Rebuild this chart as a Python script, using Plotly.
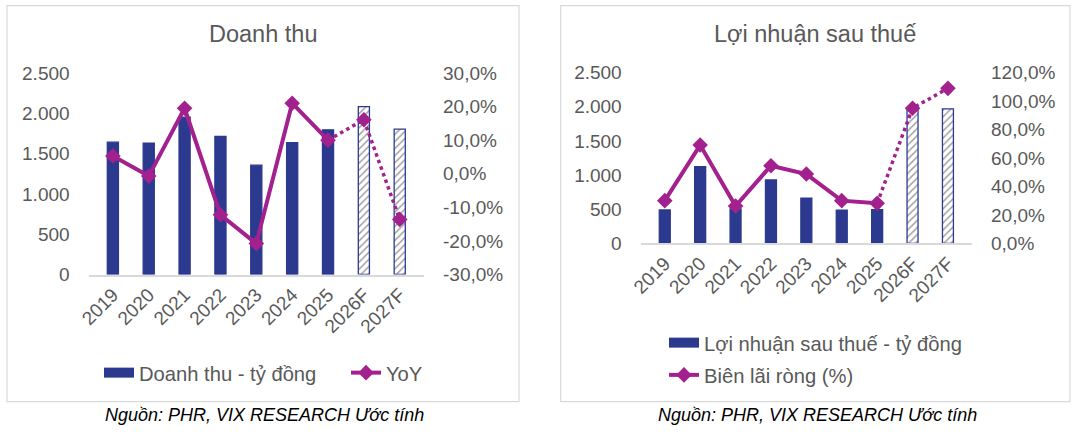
import plotly.graph_objects as go

# ---------------- data ----------------
years = ["2019", "2020", "2021", "2022", "2023", "2024", "2025", "2026F", "2027F"]
is_forecast = [False, False, False, False, False, False, False, True, True]

revenue = [1642, 1630, 1952, 1712, 1357, 1637, 1795, 2083, 1803]          # tỷ đồng
revenue_yoy = [5.3, -0.7, 19.5, -12.2, -20.8, 21.0, 10.0, 16.1, -13.6]      # %

profit = [488, 1123, 505, 928, 660, 484, 493, 1979, 1969]                   # tỷ đồng
net_margin = [30.0, 69.1, 26.2, 54.6, 48.7, 30.0, 28.1, 95.0, 109.0]         # %

rev_ticks = [0, 500, 1000, 1500, 2000, 2500]
rev_ticktext = ["0", "500", "1.000", "1.500", "2.000", "2.500"]
yoy_ticks = [-30, -20, -10, 0, 10, 20, 30]
yoy_ticktext = ["-30,0%", "-20,0%", "-10,0%", "0,0%", "10,0%", "20,0%", "30,0%"]
margin_ticks = [0, 20, 40, 60, 80, 100, 120]
margin_ticktext = ["0,0%", "20,0%", "40,0%", "60,0%", "80,0%", "100,0%", "120,0%"]

title_left = "Doanh thu"
title_right = "Lợi nhuận sau thuế"
bar_name_left = "Doanh thu - tỷ đồng"
line_name_left = "YoY"
bar_name_right = "Lợi nhuận sau thuế - tỷ đồng"
line_name_right = "Biên lãi ròng (%)"
source_text = "Nguồn: PHR, VIX RESEARCH Ước tính"

# ---------------- style ----------------
W, H = 1082, 434
NAVY = "#2B3A8F"
MAG = "#A3218E"
GREY = "#595959"
FONT = "Liberation Sans, Arial, sans-serif"
n_actual = sum(1 for f in is_forecast if not f)

def px_x(v):
    return v / W

def px_y(v):
    return 1 - v / H

bar_colors = ["white" if f else NAVY for f in is_forecast]
bar_pattern = ["/" if f else "" for f in is_forecast]

fig = go.Figure()

def add_panel(xa, ya, ya2, bars, line, bar_name, line_name, legend_id):
    fig.add_trace(go.Bar(
        x=years, y=bars, xaxis=xa, yaxis=ya, width=0.31, showlegend=False,
        marker=dict(color=bar_colors, line=dict(color=NAVY, width=1.3),
                    pattern=dict(shape=bar_pattern, fgcolor=NAVY, size=5, solidity=0.3)),
    ))
    # legend proxy for the bars
    fig.add_trace(go.Scatter(
        x=[None], y=[None], xaxis=xa, yaxis=ya, mode="lines", name=bar_name,
        line=dict(color=NAVY, width=11), legend=legend_id, legendgroup=legend_id + "a",
    ))
    fig.add_trace(go.Scatter(
        x=years[:n_actual], y=line[:n_actual], xaxis=xa, yaxis=ya2, mode="lines+markers",
        name=line_name, line=dict(color=MAG, width=4),
        marker=dict(symbol="diamond", size=12, color=MAG),
        legend=legend_id, legendgroup=legend_id + "b",
    ))
    fig.add_trace(go.Scatter(
        x=years[n_actual - 1:], y=line[n_actual - 1:], xaxis=xa, yaxis=ya2, mode="lines+markers",
        showlegend=False, line=dict(color=MAG, width=3.5, dash="dot"),
        marker=dict(symbol="diamond", size=12, color=MAG, opacity=[0] + [1] * (len(years) - n_actual)),
    ))

add_panel("x", "y", "y2", revenue, revenue_yoy, bar_name_left, line_name_left, "legend")
add_panel("x2", "y3", "y4", profit, net_margin, bar_name_right, line_name_right, "legend2")

tickfont = dict(family=FONT, size=19, color=GREY)
xcommon = dict(type="category", showline=True, linecolor="#D9D9D9", linewidth=1.5,
               showgrid=False, ticks="", tickangle=-45, tickfont=tickfont, fixedrange=True,
               automargin=False)
ycommon = dict(showgrid=False, zeroline=False, showline=False, ticks="",
               tickfont=tickfont, ticklabelstandoff=18, automargin=False)

fig.update_layout(
    width=W, height=H, margin=dict(l=0, r=0, t=0, b=0),
    paper_bgcolor="white", plot_bgcolor="white",
    barmode="overlay", font=dict(family=FONT, color=GREY),
    xaxis=dict(domain=[px_x(88.6), px_x(424)], anchor="y", **xcommon),
    yaxis=dict(domain=[px_y(274.5), px_y(73)], anchor="x", range=[0, 2500],
               tickvals=rev_ticks, ticktext=rev_ticktext, **ycommon),
    yaxis2=dict(overlaying="y", side="right", anchor="x", range=[-30, 30],
                tickvals=yoy_ticks, ticktext=yoy_ticktext, **ycommon),
    xaxis2=dict(domain=[px_x(640.7), px_x(972)], anchor="y3", **xcommon),
    yaxis3=dict(domain=[px_y(243.3), px_y(72.7)], anchor="x2", range=[0, 2500],
                tickvals=rev_ticks, ticktext=rev_ticktext, **ycommon),
    yaxis4=dict(overlaying="y3", side="right", anchor="x2", range=[0, 120],
                tickvals=margin_ticks, ticktext=margin_ticktext, **ycommon),
    legend=dict(orientation="h", x=px_x(99), xanchor="left", y=px_y(373), yanchor="middle",
                entrywidth=202, entrywidthmode="pixels",
                font=dict(family=FONT, size=20.2, color=GREY), bgcolor="rgba(0,0,0,0)"),
    legend2=dict(orientation="v", x=px_x(664), xanchor="left", y=px_y(359), yanchor="middle",
                 font=dict(family=FONT, size=20.2, color=GREY), bgcolor="rgba(0,0,0,0)",
                 traceorder="grouped", tracegroupgap=3),
    showlegend=True,
)

# panel borders
for x0, x1 in [(7, 519), (560.7, 1070)]:
    fig.add_shape(type="rect", xref="paper", yref="paper",
                  x0=px_x(x0), x1=px_x(x1), y0=px_y(401.7), y1=px_y(5.7),
                  line=dict(color="#D9D9D9", width=1.2), fillcolor="rgba(0,0,0,0)", layer="below")

# titles
for xc, txt in [(263, title_left), (815, title_right)]:
    fig.add_annotation(text=txt, x=px_x(xc), y=px_y(34), xref="paper", yref="paper",
                       showarrow=False, xanchor="center", yanchor="middle",
                       font=dict(family=FONT, size=23.5, color=GREY))

# source captions
for xc in [264.6, 817.6]:
    fig.add_annotation(text="<i>" + source_text + "</i>", x=px_x(xc), y=px_y(415),
                       xref="paper", yref="paper", showarrow=False,
                       xanchor="center", yanchor="middle",
                       font=dict(family=FONT, size=18, color="black"))

fig.write_html("out.html")
